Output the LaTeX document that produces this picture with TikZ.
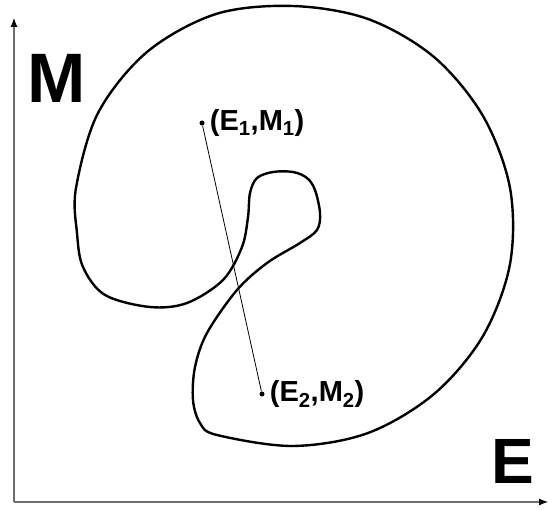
\documentclass[tikz,border=0pt]{standalone}
\usepackage{fontspec}
\setmainfont{Liberation Sans}
\usepackage{tikz}
\usetikzlibrary{
  arrows.meta,
  positioning
}
\definecolor{axisgray}{RGB}{110,110,110}

\begin{document}
\begin{tikzpicture}[
  x=1pt, y=-1pt,
  axis/.style={
    draw=axisgray,
    line width=1.1pt,
    -{Latex[length=9pt, width=7pt, color=black]}
  },
  biglabel/.style={
    font=\fontsize{70}{70}\selectfont\bfseries,
    inner sep=0pt
  },
  statedot/.style={
    circle,
    fill=black,
    inner sep=0pt,
    minimum size=5pt
  },
  statelabel/.style={
    font=\fontsize{29}{29}\selectfont\bfseries,
    inner sep=0pt
  }
]
  \useasboundingbox (0,0) rectangle (548,510);

  % Axes
  \coordinate (origin) at (14,502);
  \coordinate (mtip) at (14,18);
  \coordinate (etip) at (548,502);
  \draw[axis] (origin) -- (mtip);
  \draw[axis] (origin) -- (etip);
  \node[biglabel, anchor=base west] (mlabel) at (27,103) {M};
  \node[biglabel, anchor=base west, font=\fontsize{64}{64}\selectfont\bfseries] (elabel) at (491,483) {E};

  % Region boundary (outer part nearly a circle)
  \draw[line width=2.4pt, line join=round] plot[smooth cycle, tension=0.55] coordinates {
    (293,6) (368,19) (434,57) (483,116) (510,188) (510,264) (483,336)
    (434,394) (368,433) (293,446) (217,435) (200,423) (193,400)
    (195,367) (207,333) (237,290) (267,263) (300,243) (317,230) (320,213)
    (315,190) (307,178) (293,172) (273,172) (257,178) (250,193) (248,217)
    (242,247) (223,280) (187,303) (150,307) (105,295) (83,267) (77,233)
    (76,188) (98,113) (147,52) (216,14)
  };

  % States
  \node[statedot] (s1) at (202,123) {};
  \node[statedot] (s2) at (262,394) {};
  \draw[line width=0.8pt] (s1) -- (s2);
  \node[statelabel, right=5pt of s1] (l1) {(E\textsubscript{1},M\textsubscript{1})};
  \node[statelabel, right=5pt of s2] (l2) {(E\textsubscript{2},M\textsubscript{2})};
\end{tikzpicture}
\end{document}
